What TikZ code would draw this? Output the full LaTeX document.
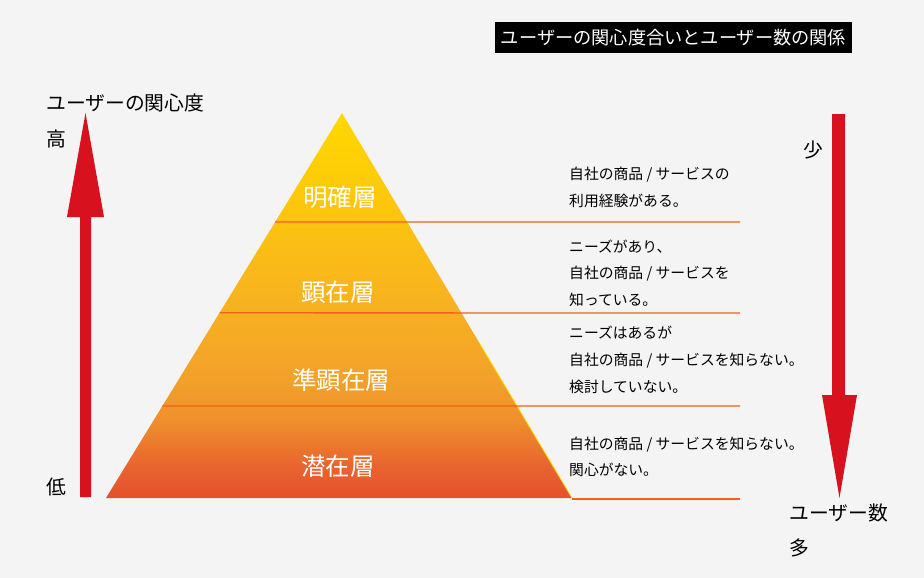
\documentclass[tikz,border=0pt]{standalone}
\usepackage{fontspec}
\setmainfont{Noto Sans CJK JP}
\usetikzlibrary{calc}
\usetikzlibrary{positioning}

\definecolor{bgcol}{HTML}{F4F4F4}
\definecolor{arrowcol}{HTML}{D7121E}
\definecolor{linecol}{HTML}{F0601E}
\definecolor{edgecol}{HTML}{FFE000}
\definecolor{pyrA}{HTML}{E4522D}
\definecolor{pyrB}{HTML}{E8632E}
\definecolor{pyrC}{HTML}{EF8F2C}
\definecolor{pyrD}{HTML}{F2A02A}
\definecolor{pyrE}{HTML}{F8B51E}
\definecolor{pyrF}{HTML}{FCC80A}
\definecolor{pyrG}{HTML}{FFD800}

\pgfdeclareverticalshading{pyramid}{100bp}{color(0bp)=(pyrA); color(25bp)=(pyrA);
  color(29bp)=(pyrB); color(35bp)=(pyrC); color(40bp)=(pyrD); color(52bp)=(pyrE);
  color(64bp)=(pyrF); color(75bp)=(pyrG); color(100bp)=(pyrG)}

\tikzset{
  layer/.style={text=white, inner sep=0pt, font=\fontsize{24.5}{24.5}\selectfont},
  note/.style={anchor=west, align=left, inner sep=0pt, font=\fontsize{14.8}{26.7}\selectfont},
  axislabel/.style={anchor=west, inner sep=0pt, font=\fontsize{19.8}{19.8}\selectfont},
  divider/.style={draw=linecol, line width=1.3pt},
  bigarrow/.style={fill=arrowcol},
}

\begin{document}
\begin{tikzpicture}[x=1pt, y=-1pt]
    \fill[bgcol] (0,0) rectangle (924,578);
    \useasboundingbox (0,0) rectangle (924,578);

    \coordinate (apex) at (342,113);
    \coordinate (baseL) at (106,498);
    \coordinate (baseR) at (572,498);

    % title
    \node[fill=black, text=white, inner sep=0pt, minimum width=357pt, minimum height=31pt,
          font=\fontsize{18.2}{18.2}\selectfont] (title) at (673.5,37.5) {ユーザーの関心度合いとユーザー数の関係};

    % pyramid
    \shade[shading=pyramid] (apex) -- (baseR) -- (baseL) -- cycle;
    \draw[edgecol, line width=0.8pt] ($(apex)!0.6!(baseR)$) -- (baseR);

    \draw[divider] ($(apex)!0.283!(baseL)$) -- (740,222);
    \draw[divider] ($(apex)!0.519!(baseL)$) -- (740,313);
    \draw[divider] ($(apex)!0.761!(baseL)$) -- (740,406);
    \draw[divider] (baseR) ++(0,1) -- (740,499);

    \node[layer] (clear) at (340,197) {明確層};
    \node[layer] (manifest) at (338,292) {顕在層};
    \node[layer] (semi) at (341,380) {準顕在層};
    \node[layer] (latent) at (338,466) {潜在層};

    % notes
    \node[note] (noteA) at (569,187.5) {自社の商品 / サービスの\\利用経験がある。};
    \node[note] (noteB) at (569,273) {ニーズがあり、\\自社の商品 / サービスを\\知っている。};
    \node[note] (noteC) at (569,360) {ニーズはあるが\\自社の商品 / サービスを知らない。\\検討していない。};
    \node[note] (noteD) at (569,457) {自社の商品 / サービスを知らない。\\関心がない。};

    % left arrow
    \fill[bigarrow] (80,497) -- (80,217) -- (67,217) -- (85.5,113) -- (104,217) -- (91,217) -- (91,497) -- cycle;
    \node[axislabel] (interest) at (46,103) {ユーザーの関心度};
    \node[axislabel] (high) at (46,139) {高};
    \node[axislabel] (low) at (46,487) {低};

    % right arrow
    \fill[bigarrow] (832,114) -- (832,395) -- (822,395) -- (839.5,498) -- (857,395) -- (845,395) -- (845,114) -- cycle;
    \node[axislabel] (few) at (803,150) {少};
    \node[axislabel] (users) at (789,513) {ユーザー数};
    \node[axislabel] (many) at (789,548) {多};
\end{tikzpicture}
\end{document}
